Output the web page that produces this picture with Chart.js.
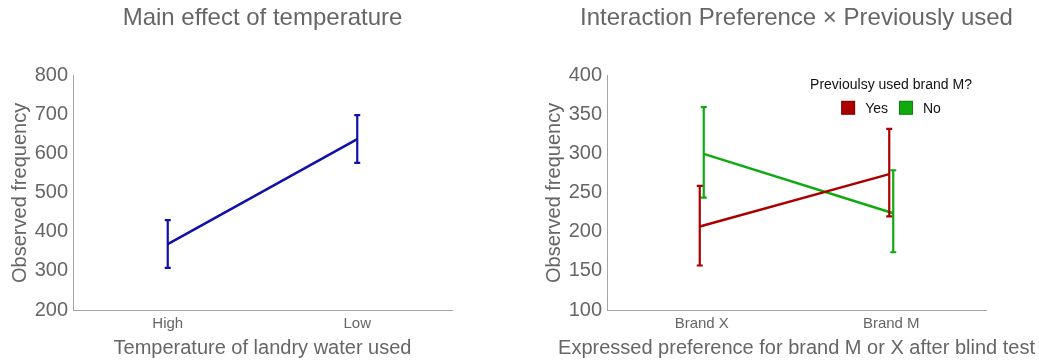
<!DOCTYPE html>
<html>
<head>
<meta charset="utf-8">
<script src="https://cdn.jsdelivr.net/npm/chart.js@4/dist/chart.umd.min.js"></script>
<style>
  html, body { margin: 0; padding: 0; background: #fff; overflow: hidden; width: 1039px; height: 364px; }
  canvas { position: absolute; top: 0; }
  #tempChart { left: 0; }
  #brandChart { left: 534px; }
</style>
</head>
<body>
<canvas id="tempChart" width="525" height="364"></canvas>
<canvas id="brandChart" width="525" height="364"></canvas>
<script>
// ---- data ----
const tempCategories = ['High', 'Low'];
const tempMeans = [369, 638];
const tempLower = [308, 577];
const tempUpper = [430, 699];

const brandCategories = ['Brand X', 'Brand M'];
const usedYesMeans = [207, 274];
const usedYesLower = [157, 220];
const usedYesUpper = [259, 332];
const usedNoMeans = [300, 224];
const usedNoLower = [244, 174];
const usedNoUpper = [360, 279];

const tempTicks = { min: 200, max: 800, step: 100 };
const brandTicks = { min: 100, max: 400, step: 50 };

// ---- styling ----
const FONT = "'Liberation Sans', Arial, sans-serif";
const GREY_TEXT = '#666666';
const AXIS_GREY = '#a6a6a6';
const BLUE = '#1010aa';
const RED = '#aa0000';
const GREEN = '#10aa10';

Chart.defaults.font.family = FONT;
Chart.defaults.animation = false;

// shift each dataset's points horizontally by a few pixels (dodge)
const dodgePlugin = {
  id: 'dodge',
  afterDatasetsUpdate(chart) {
    chart.data.datasets.forEach((ds, i) => {
      const px = ds.dodgePx || 0;
      if (!px) return;
      chart.getDatasetMeta(i).data.forEach(pt => { pt.x += px; });
    });
  }
};

// vertical error bars with caps, drawn right after each dataset's line
const errorBarPlugin = {
  id: 'errorBars',
  afterDatasetDraw(chart, args) {
    const ds = chart.data.datasets[args.index];
    if (!ds.lower || !ds.upper) return;
    const y = chart.scales.y;
    const ctx = chart.ctx;
    const cap = 3;
    ctx.save();
    ctx.strokeStyle = ds.borderColor;
    ctx.lineWidth = 2.2;
    ctx.lineCap = 'butt';
    args.meta.data.forEach((pt, j) => {
      const yl = y.getPixelForValue(ds.lower[j]);
      const yu = y.getPixelForValue(ds.upper[j]);
      ctx.beginPath();
      ctx.moveTo(pt.x, yl); ctx.lineTo(pt.x, yu);
      ctx.moveTo(pt.x - cap, yl); ctx.lineTo(pt.x + cap, yl);
      ctx.moveTo(pt.x - cap, yu); ctx.lineTo(pt.x + cap, yu);
      ctx.stroke();
    });
    ctx.restore();
  }
};

// x-axis caption centred under the plot, allowed to run wider than the axis
const xCaptionPlugin = {
  id: 'xCaption',
  afterDraw(chart, args, opts) {
    if (!opts || !opts.text) return;
    const xs = chart.scales.x;
    const ctx = chart.ctx;
    ctx.save();
    ctx.font = `${opts.size}px ${FONT}`;
    ctx.fillStyle = opts.color;
    ctx.textAlign = 'center';
    ctx.textBaseline = 'middle';
    ctx.fillText(opts.text, (xs.left + xs.right) / 2, xs.bottom - opts.size * 0.6 - opts.padBottom);
    ctx.restore();
  }
};

// small legend with a title and a horizontal row of square keys
const keyLegendPlugin = {
  id: 'keyLegend',
  afterDraw(chart, args, opts) {
    if (!opts || !opts.display) return;
    const ctx = chart.ctx;
    const area = chart.chartArea;
    const cx = area.right - opts.offsetRight;
    ctx.save();
    ctx.font = `${opts.fontSize}px ${FONT}`;
    ctx.fillStyle = opts.color;
    ctx.textBaseline = 'middle';
    ctx.textAlign = 'center';
    ctx.fillText(opts.title, cx, area.top + opts.titleDy);
    const box = opts.boxSize, gapText = opts.gapText, gapItem = opts.gapItem;
    const items = chart.data.datasets.map(ds => ({ label: ds.label, color: ds.borderColor }));
    const widths = items.map(it => box + gapText + ctx.measureText(it.label).width);
    const total = widths.reduce((a, b) => a + b, 0) + gapItem * (items.length - 1);
    let x = cx - total / 2;
    const yMid = area.top + opts.itemsDy;
    ctx.textAlign = 'left';
    items.forEach((it, k) => {
      ctx.fillStyle = it.color;
      ctx.fillRect(x, yMid - box / 2, box, box);
      ctx.strokeStyle = 'rgba(0,0,0,0.25)';
      ctx.lineWidth = 1;
      ctx.strokeRect(x + 0.5, yMid - box / 2 + 0.5, box - 1, box - 1);
      ctx.fillStyle = opts.color;
      ctx.fillText(it.label, x + box + gapText, yMid + 1);
      x += widths[k] + gapItem;
    });
    ctx.restore();
  }
};

function buildOptions(title, xTitle, ticks, legend) {
  return {
    responsive: false,
    devicePixelRatio: 1,
    layout: { padding: 0 },
    plugins: {
      legend: { display: false },
      tooltip: { enabled: false },
      title: {
        display: true,
        text: title,
        color: GREY_TEXT,
        font: { size: 24, weight: 'normal', family: FONT },
        padding: { top: 4, bottom: 43 }
      },
      xCaption: { text: xTitle, color: GREY_TEXT, size: 20, padBottom: 4 },
      keyLegend: legend || { display: false }
    },
    scales: {
      x: {
        type: 'category',
        offset: true,
        grid: { display: false, drawTicks: false },
        border: { display: true, color: AXIS_GREY, width: 1 },
        ticks: { color: GREY_TEXT, font: { size: 15 }, padding: 5 },
        title: { display: false },
        afterFit: s => { s.height = 54; }
      },
      y: {
        type: 'linear',
        min: ticks.min,
        max: ticks.max,
        grid: { display: false, drawTicks: false },
        border: { display: true, color: AXIS_GREY, width: 1 },
        ticks: { stepSize: ticks.step, color: GREY_TEXT, font: { size: 20 }, padding: 5 },
        title: { display: true, text: 'Observed frequency', color: GREY_TEXT, font: { size: 20 }, padding: { top: 8, bottom: 0 } },
        afterFit: s => { s.width = 73; }
      },
      // empty right-hand spacer so the title sits centred over the plot
      spacer: {
        type: 'linear',
        position: 'right',
        display: false,
        afterFit: s => { s.width = 73; }
      }
    }
  };
}

const lineStyle = { borderWidth: 2.5, pointRadius: 0, tension: 0, fill: false };

new Chart(document.getElementById('tempChart'), {
  type: 'line',
  data: {
    labels: tempCategories,
    datasets: [{
      label: 'Temperature',
      data: tempMeans,
      lower: tempLower,
      upper: tempUpper,
      borderColor: BLUE,
      backgroundColor: BLUE,
      ...lineStyle
    }]
  },
  options: buildOptions('Main effect of temperature', 'Temperature of landry water used', tempTicks),
  plugins: [dodgePlugin, errorBarPlugin, xCaptionPlugin, keyLegendPlugin]
});

new Chart(document.getElementById('brandChart'), {
  type: 'line',
  data: {
    labels: brandCategories,
    datasets: [{
      label: 'Yes',
      data: usedYesMeans,
      lower: usedYesLower,
      upper: usedYesUpper,
      borderColor: RED,
      backgroundColor: RED,
      dodgePx: -2,
      ...lineStyle
    }, {
      label: 'No',
      data: usedNoMeans,
      lower: usedNoLower,
      upper: usedNoUpper,
      borderColor: GREEN,
      backgroundColor: GREEN,
      dodgePx: 2,
      ...lineStyle
    }]
  },
  options: buildOptions('Interaction Preference \u00d7 Previously used',
    'Expressed preference for brand M or X after blind test', brandTicks, {
      display: true,
      title: 'Previoulsy used brand M?',
      color: '#111111',
      fontSize: 14,
      offsetRight: 95,
      titleDy: 9,
      itemsDy: 32,
      boxSize: 14,
      gapText: 10,
      gapItem: 11
    }),
  plugins: [dodgePlugin, errorBarPlugin, xCaptionPlugin, keyLegendPlugin]
});
</script>
</body>
</html>
